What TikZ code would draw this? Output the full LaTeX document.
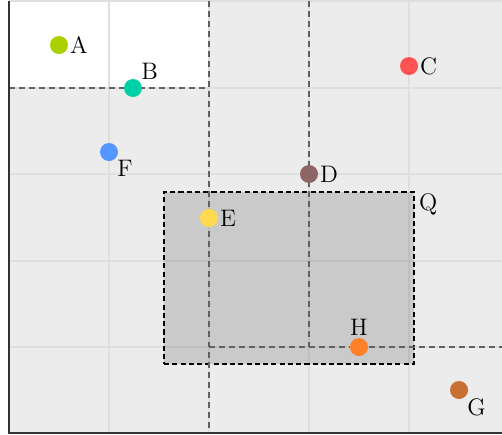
\documentclass[tikz,border=0pt]{standalone}
\begin{document}
\definecolor{colA}{RGB}{170,208,0}
\definecolor{colB}{RGB}{0,208,168}
\definecolor{colC}{RGB}{255,82,82}
\definecolor{colD}{RGB}{142,102,102}
\definecolor{colE}{RGB}{255,218,80}
\definecolor{colF}{RGB}{85,150,255}
\definecolor{colG}{RGB}{200,112,50}
\definecolor{colH}{RGB}{255,128,40}
\definecolor{bgray}{RGB}{236,236,236}
\definecolor{gline}{RGB}{223,223,223}
\begin{tikzpicture}[x=0.02cm,y=-0.02cm,
  bgfill/.style={fill=bgray},
  gridline/.style={draw=gline,line width=0.7pt},
  split/.style={draw=black!62,line width=0.6pt,dash pattern=on 3.4pt off 2.3pt},
  axisline/.style={draw=black!80,line width=0.6pt},
  qbox/.style={rectangle,draw=black,line width=1.1pt,dash pattern=on 2.9pt off 1.8pt,fill=black,fill opacity=0.14,draw opacity=1,inner sep=0pt,outer sep=0pt,minimum width=5cm,minimum height=3.44cm},
  dot/.style={circle,inner sep=0pt,outer sep=0pt,minimum size=0.36cm},
  lbl/.style={inner sep=1pt,font=\fontsize{13.6}{16}\selectfont,text opacity=1,fill opacity=1},
]
\useasboundingbox (0,0) rectangle (502,434);
% background
\fill[bgfill] (209,1) rectangle (502,433);
\fill[bgfill] (9,88) rectangle (209,433);
% grid
\foreach \gx in {109,209,309,409} \draw[gridline] (\gx,1) -- (\gx,433);
\foreach \gy in {1,88,174,261,347} \draw[gridline] (9,\gy) -- (502,\gy);
% query rectangle
\node[qbox] (Q) at (289,278) {};
\node[lbl,anchor=north west] (Qlbl) at ([xshift=0.06cm]Q.north east) {Q};
% splitting lines
\draw[split] (209,1) -- (209,433);
\draw[split] (9,88) -- (209,88);
\draw[split] (209,347) -- (502,347);
\draw[split] (309,1) -- (309,347);
% axes
\draw[axisline] (9,1) -- (9,433) -- (502,433);
% points
\node[dot,fill=colA,label={[lbl]right:A}] (A) at (59,45) {};
\node[dot,fill=colB,label={[lbl]above right:B}] (B) at (133,88) {};
\node[dot,fill=colC,label={[lbl]right:C}] (C) at (409,66) {};
\node[dot,fill=colD,label={[lbl]right:D}] (D) at (309,174) {};
\node[dot,fill=colE,label={[lbl]right:E}] (E) at (209,218) {};
\node[dot,fill=colF,label={[lbl]below right:F}] (F) at (109,152) {};
\node[dot,fill=colG,label={[lbl]below right:G}] (G) at (459,390) {};
\node[dot,fill=colH,label={[lbl]above:H}] (H) at (359,347) {};
\end{tikzpicture}
\end{document}
